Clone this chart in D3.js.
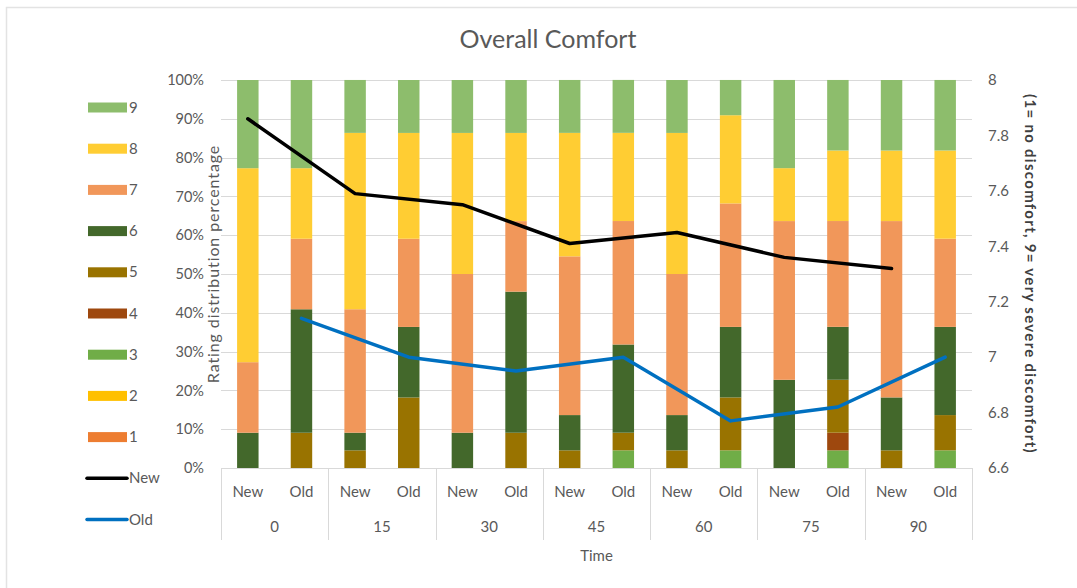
<!DOCTYPE html>
<html><head><meta charset="utf-8">
<script src="https://cdn.jsdelivr.net/npm/d3@7/dist/d3.min.js"></script>
<style>
body{margin:0;background:#fff;}
text{font-family:Lato,"Open Sans",sans-serif;fill:#595959;}
</style></head>
<body><svg id="c" width="1077" height="588"></svg>
<script>
// ---- data ----
const times = ["0","15","30","45","60","75","90"];
const types = ["New","Old"];
const ratings = ["1","2","3","4","5","6","7","8","9"];
// percentage of ratings per bar, bar order: New0, Old0, New15, Old15, ...
const r1 = [0,0,0,0,0,0,0,0,0,0,0,0,0,0];
const r2 = [0,0,0,0,0,0,0,0,0,0,0,0,0,0];
const r3 = [0,0,0,0,0,0,0,4.55,0,4.55,0,4.55,0,4.55];
const r4 = [0,0,0,0,0,0,0,0,0,0,0,4.55,0,0];
const r5 = [0,9.09,4.55,18.18,0,9.09,4.55,4.55,4.55,13.64,0,13.64,4.55,9.09];
const r6 = [9.09,31.82,4.55,18.18,9.09,36.36,9.09,22.73,9.09,18.18,22.73,13.64,13.64,22.73];
const r7 = [18.18,18.18,31.82,22.73,40.91,18.18,40.91,31.82,36.36,31.82,40.91,27.27,45.45,22.73];
const r8 = [50,18.18,45.45,27.27,36.36,22.73,31.82,22.73,36.36,22.73,13.64,18.18,18.18,22.73];
const r9 = [22.73,22.73,13.64,13.64,13.64,13.64,13.64,13.64,13.64,9.09,22.73,18.18,18.18,18.18];
const meanNew = [7.86,7.59,7.55,7.41,7.45,7.36,7.32];
const meanOld = [7.14,7.00,6.95,7.00,6.77,6.82,7.00];
const leftTicks = [0,10,20,30,40,50,60,70,80,90,100];
const rightTicks = [6.6,6.8,7,7.2,7.4,7.6,7.8,8];

const colors = {"1":"#ED7D31","2":"#FFC000","3":"#70AD47","4":"#9E480E","5":"#997300","6":"#43682B","7":"#F1975A","8":"#FFCD33","9":"#8DBD6C"};
const series = [r1,r2,r3,r4,r5,r6,r7,r8,r9];

// ---- layout ----
const svg = d3.select("#c");
const L = 221, R = 972, T = 80, B = 468;

// border
svg.append("path").attr("d","M6.5,588 V7.5 H1077").attr("fill","none").attr("stroke","#e3e3e3").attr("stroke-width",1.5);

const bars = [];
times.forEach((t,i)=>types.forEach((ty,j)=>bars.push({time:t,type:ty,idx:i*2+j})));
const rows = bars.map(b=>{const o={key:b.time+"|"+b.type}; ratings.forEach((r,k)=>o[r]=series[k][b.idx]); return o;});

const x = d3.scaleBand().domain(rows.map(d=>d.key)).range([L,R]).paddingInner(0.6).paddingOuter(0.3);
const y = d3.scaleLinear().domain([0,100]).range([B,T]);
const y2 = d3.scaleLinear().domain([6.6,8]).range([B,T]);

// gridlines
svg.append("g").selectAll("line").data(leftTicks).join("line")
  .attr("x1",L).attr("x2",R).attr("y1",d=>Math.round(y(d))+0.5).attr("y2",d=>Math.round(y(d))+0.5)
  .attr("stroke","#d9d9d9").attr("stroke-width",1);

// stacked bars
const stack = d3.stack().keys(ratings)(rows);
svg.append("g").selectAll("g").data(stack).join("g").attr("fill",d=>colors[d.key])
  .selectAll("rect").data(d=>d).join("rect")
  .attr("x",d=>x(d.data.key)).attr("width",x.bandwidth())
  .attr("y",d=>y(d[1])).attr("height",d=>Math.max(0,y(d[0])-y(d[1])));

// left axis
const la = svg.append("g").attr("transform",`translate(${L},0)`)
  .call(d3.axisLeft(y).tickValues(leftTicks).tickFormat(d=>d+"%").tickSize(0).tickPadding(17));
la.select(".domain").remove();
la.selectAll("text").style("font-size","14.5px").attr("fill","#595959").style("font-family","Lato");

// right axis
const ra = svg.append("g").attr("transform",`translate(${R},0)`)
  .call(d3.axisRight(y2).tickValues(rightTicks).tickFormat(d3.format("")).tickSize(0).tickPadding(16));
ra.select(".domain").remove();
ra.selectAll("text").style("font-size","15px").attr("fill","#595959").style("font-family","Lato");

// bottom axis line
svg.append("line").attr("x1",L).attr("x2",R).attr("y1",B+0.5).attr("y2",B+0.5).attr("stroke","#d9d9d9");
// group separators
const gx = d3.scaleBand().domain(times).range([L,R]);
const seps = times.map(t=>gx(t)).concat([R]);
svg.append("g").selectAll("line").data(seps).join("line")
  .attr("x1",d=>Math.round(d)+0.5).attr("x2",d=>Math.round(d)+0.5).attr("y1",B).attr("y2",540)
  .attr("stroke","#d9d9d9");
// inner labels
svg.append("g").selectAll("text").data(rows).join("text")
  .attr("x",d=>x(d.key)+x.bandwidth()/2).attr("y",497).attr("text-anchor","middle")
  .style("font-size","15px").text(d=>d.key.split("|")[1]);
// group labels
svg.append("g").selectAll("text").data(times).join("text")
  .attr("x",d=>gx(d)+gx.bandwidth()/2).attr("y",532).attr("text-anchor","middle")
  .style("font-size","15px").text(d=>d);
svg.append("text").attr("x",(L+R)/2).attr("y",561).attr("text-anchor","middle").style("font-size","15px").text("Time");

// lines
const line = d3.line().x(d=>d[0]).y(d=>y2(d[1]));
const newPts = times.map((t,i)=>[x(t+"|New")+x.bandwidth()/2, meanNew[i]]);
const oldPts = times.map((t,i)=>[x(t+"|Old")+x.bandwidth()/2, meanOld[i]]);
svg.append("path").attr("d",line(newPts)).attr("fill","none").attr("stroke","#000").attr("stroke-width",3.5).attr("stroke-linejoin","round").attr("stroke-linecap","round");
svg.append("path").attr("d",line(oldPts)).attr("fill","none").attr("stroke","#0070C0").attr("stroke-width",3.5).attr("stroke-linejoin","round").attr("stroke-linecap","round");

// title
svg.append("text").attr("x",548).attr("y",48).attr("text-anchor","middle").style("font-size","25px").text("Overall Comfort");

// axis titles
svg.append("text").attr("transform","translate(219,264) rotate(-90)").attr("text-anchor","middle")
  .style("font-size","16px").style("letter-spacing","0.9px").text("Rating distribution percentage");
svg.append("text").attr("transform","translate(1025,274) rotate(90)").attr("text-anchor","middle")
  .style("font-size","15px").style("font-weight","bold").style("letter-spacing","1.3px").style("fill","#404040")
  .text("(1= no discomfort, 9= very severe discomfort)");

// legend
const legItems = ratings.slice().reverse().map(r=>({label:r,type:"rect",color:colors[r]}))
  .concat([{label:"New",type:"line",color:"#000"},{label:"Old",type:"line",color:"#0070C0"}]);
const lg = svg.append("g").selectAll("g").data(legItems).join("g")
  .attr("transform",(d,i)=>`translate(0,${107.5+i*41.2})`);
lg.filter(d=>d.type==="rect").append("rect").attr("x",88).attr("y",-5).attr("width",39).attr("height",10).attr("fill",d=>d.color);
lg.filter(d=>d.type==="line").append("line").attr("x1",87).attr("x2",127).attr("y1",0).attr("y2",0).attr("stroke",d=>d.color).attr("stroke-width",3.5).attr("stroke-linecap","round");
lg.append("text").attr("x",129).attr("y",5).style("font-size","15px").text(d=>d.label);
</script></body></html>
